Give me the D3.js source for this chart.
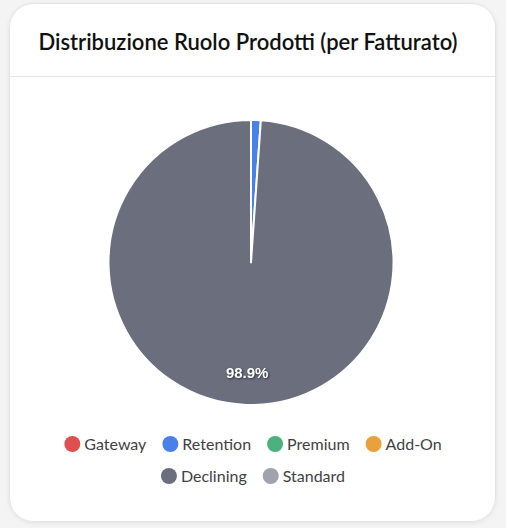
<!DOCTYPE html>
<html lang="it">
<head>
    <meta charset="utf-8">
    <style>
        body {
            margin: 0;
            background: #f4f4f5;
            font-family: Lato, "Open Sans", sans-serif;
        }
        svg {
            display: block;
        }
        .legend-label {
            font-size: 16px;
            fill: #3f3f46;
        }
        .slice-label {
            font-family: "Liberation Sans", Arial, sans-serif;
            font-size: 15px;
            font-weight: 700;
            fill: #ffffff;
            filter: drop-shadow(1px 1px 1px rgba(0,0,0,0.55));
        }
    </style>
    <script src="https://d3js.org/d3.v7.min.js"></script>
</head>
<body>
    <svg id="chart" width="506" height="528"></svg>

    <script>
        // Data
        const categories = ["Gateway", "Retention", "Premium", "Add-On", "Declining", "Standard"];
        const revenueShare = [0, 1.1, 0, 0, 98.9, 0];
        const sliceColors = ["#df4f4f", "#4a80ea", "#4cb07f", "#e9a13b", "#6b6e7d", "#a0a2ad"];
        const title = "Distribuzione Ruolo Prodotti (per Fatturato)";

        const W = 506, H = 528;
        const svg = d3.select("#chart");

        // Card
        const card = { x: 9.5, y: 3.5, w: 486, h: 518, r: 24 };
        const defs = svg.append("defs");
        const shadow = defs.append("filter").attr("id", "shadow")
            .attr("x", "-10%").attr("y", "-10%").attr("width", "120%").attr("height", "120%");
        shadow.append("feDropShadow")
            .attr("dx", 0).attr("dy", 1).attr("stdDeviation", 2)
            .attr("flood-color", "#000").attr("flood-opacity", 0.08);

        svg.append("rect")
            .attr("x", card.x).attr("y", card.y)
            .attr("width", card.w).attr("height", card.h)
            .attr("rx", card.r)
            .attr("fill", "#fff")
            .attr("stroke", "#e4e4e7")
            .attr("filter", "url(#shadow)");

        svg.append("text")
            .attr("x", 248).attr("y", 50)
            .attr("text-anchor", "middle")
            .style("font-size", "22px")
            .style("font-weight", 600)
            .style("fill", "#111")
            .text(title);

        svg.append("line")
            .attr("x1", card.x).attr("x2", card.x + card.w)
            .attr("y1", 76.5).attr("y2", 76.5)
            .attr("stroke", "#e4e4e7");

        // Pie
        const cx = 251, cy = 262.5, R = 142.5;
        const data = categories.map((c, i) => ({ name: c, value: revenueShare[i], color: sliceColors[i] }));
        const total = d3.sum(revenueShare);

        const pie = d3.pie().sort(null).value(d => d.value);
        const arc = d3.arc().innerRadius(0).outerRadius(R);
        const labelArc = d3.arc().innerRadius(R * 0.775).outerRadius(R * 0.775);

        const g = svg.append("g").attr("transform", `translate(${cx},${cy})`);
        const arcs = pie(data).filter(d => d.data.value > 0);

        g.selectAll("path")
            .data(arcs)
            .join("path")
            .attr("d", arc)
            .attr("fill", d => d.data.color)
            .attr("stroke", "#fff")
            .attr("stroke-width", 2)
            .attr("stroke-linejoin", "round");

        g.selectAll("text")
            .data(arcs.filter(d => d.data.value / total > 0.05))
            .join("text")
            .attr("class", "slice-label")
            .attr("transform", d => `translate(${labelArc.centroid(d)})`)
            .attr("text-anchor", "middle")
            .attr("dy", "0.35em")
            .text(d => (d.data.value / total * 100).toFixed(1) + "%");

        // Legend (centered rows)
        const rows = [[0, 1, 2, 3], [4, 5]];
        const rowY = [444, 476];
        const dotR = 8, dotGap = 4, itemGap = 16;

        const legend = svg.append("g");
        rows.forEach((row, ri) => {
            const items = row.map(i => {
                const item = legend.append("g");
                item.append("circle").attr("r", dotR).attr("cx", dotR).attr("fill", sliceColors[i]);
                const t = item.append("text")
                    .attr("class", "legend-label")
                    .attr("x", dotR * 2 + dotGap)
                    .attr("dy", "0.35em")
                    .text(categories[i]);
                const w = dotR * 2 + dotGap + t.node().getComputedTextLength();
                return { item, w };
            });
            const totalW = d3.sum(items, d => d.w) + itemGap * (items.length - 1);
            let x = W / 2 - totalW / 2;
            items.forEach(d => {
                d.item.attr("transform", `translate(${x},${rowY[ri]})`);
                x += d.w + itemGap;
            });
        });
    </script>
</body>
</html>
